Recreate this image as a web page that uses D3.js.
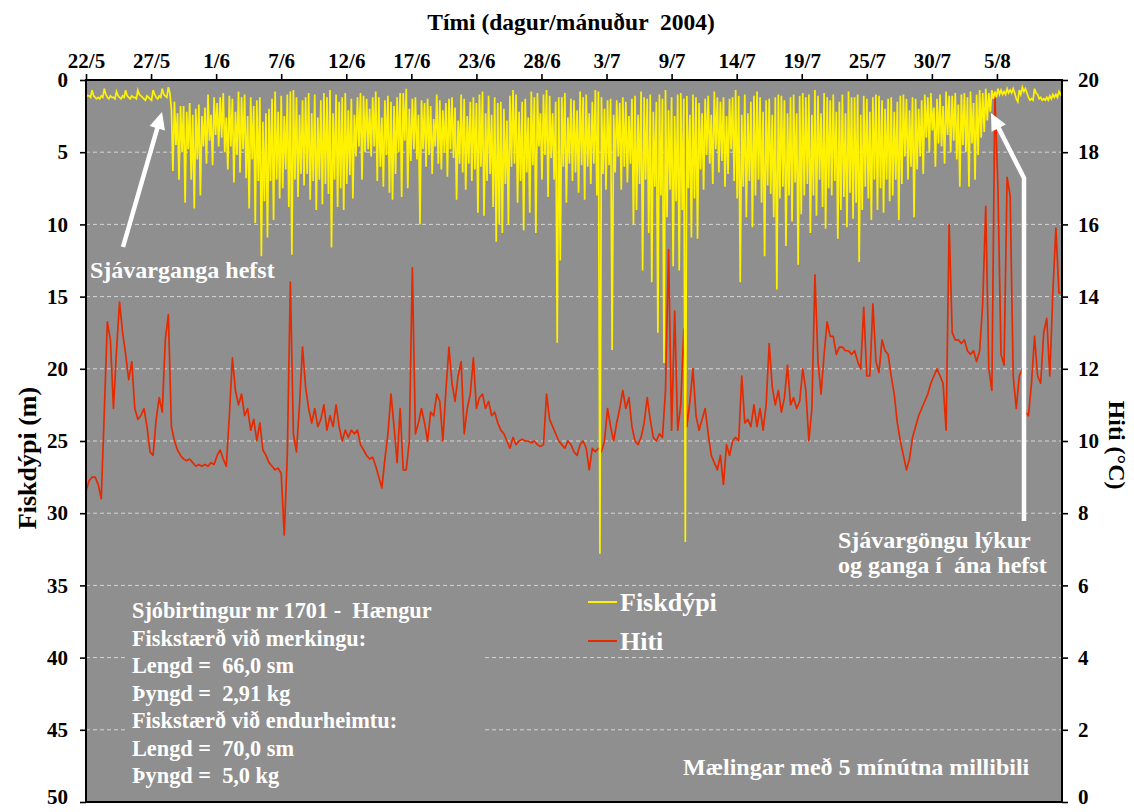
<!DOCTYPE html>
<html><head><meta charset="utf-8">
<script src="https://cdn.jsdelivr.net/npm/d3@7"></script>
<style>
body{margin:0;background:#fff;}
text{font-family:"Liberation Serif","Times New Roman",serif;font-weight:bold;white-space:pre;}
</style>
</head><body>
<svg id="c" width="1134" height="812"></svg>
<script>
// ---------------- data ----------------
const tickLabels = ["22/5","27/5","1/6","7/6","12/6","17/6","23/6","28/6","3/7","9/7","14/7","19/7","25/7","30/7","5/8"];
const tickStepDays = 16/3;          // label spacing in days
const totalDays = 80;               // 22/5 .. 10/8
const sampleStep = 0.25;            // days between samples
const depthTicks = [0,5,10,15,20,25,30,35,40,45,50];
const tempTicks = [0,2,4,6,8,10,12,14,16,18,20];

// shallowest reading per sample (m)
const depthShallow = [
1.0,1.1,0.7,1.2, 1.2,1.1,0.6,1.2, 1.1,1.2,0.8,1.2, 1.1,0.7,1.2,1.1, 1.2,0.7,1.1,1.3,
1.1,1.3,0.7,1.2, 1.1,0.6,1.1,0.5, 2.0,1.5,2.3,1.8, 1.8,2.2,1.6,2.4, 2.0,1.7,2.5,1.9,
1.0,2.4,1.2,1.6, 1.2,0.9,2.6,1.1, 1.3,2.2,0.8,1.2, 1.0,2.5,1.2,1.8, 1.4,1.2,2.9,2.3,
2.0,1.3,0.8,2.2, 1.1,2.5,1.0,0.8, 0.7,1.2,2.4,1.4, 1.2,0.9,2.3,1.0, 2.6,1.4,0.9,1.2,
0.7,2.3,1.0,1.5, 1.2,0.9,2.1,1.3, 2.4,1.2,0.9,1.1, 1.3,2.0,1.2,0.8, 1.2,2.6,1.4,1.1,
1.5,1.8,1.2,0.9, 0.9,0.6,2.0,1.3, 1.2,2.4,1.4,1.6, 1.3,1.8,2.7,1.0, 1.4,2.1,1.6,1.3,
1.2,1.9,2.8,1.0, 1.3,2.5,1.5,1.2, 1.6,1.0,0.8,2.3, 1.1,2.4,1.2,1.6, 1.5,2.0,2.8,1.1,
0.7,1.0,2.2,1.5, 1.3,2.6,0.8,1.2, 0.9,2.3,1.0,0.7, 1.1,2.3,1.5,1.2, 1.2,0.9,2.6,1.3,
1.4,2.1,0.8,1.2, 1.0,2.3,1.5,0.7, 0.8,1.2,2.0,1.4, 1.3,2.4,1.4,1.6, 1.2,1.5,2.5,1.3,
1.1,2.4,0.8,1.2, 1.3,1.0,2.2,1.5, 1.0,1.3,0.7,2.1, 1.2,2.5,1.0,0.9, 1.3,1.1,2.4,1.0,
1.2,1.6,2.3,1.3, 1.1,2.4,0.8,1.2, 1.5,1.2,2.5,1.3, 1.2,0.7,1.1,2.4, 1.0,2.3,1.5,1.1,
0.8,1.2,2.2,1.4, 1.3,2.4,1.2,1.0, 1.1,1.4,2.3,1.2, 1.0,2.3,1.1,0.9, 1.2,1.0,2.4,0.7,
1.1,2.3,0.9,1.2, 1.4,1.0,2.2,1.5, 1.0,2.3,0.8,1.2, 1.2,1.0,2.4,1.1, 1.3,2.2,1.2,1.0,
1.1,1.4,2.0,1.3, 1.2,2.2,1.5,1.1, 1.0,1.3,2.1,1.2, 1.3,2.0,1.4,1.0, 1.2,0.9,1.9,1.3,
1.0,1.8,0.8,1.1, 1.1,0.9,1.7,1.0, 0.9,1.2,0.8,1.6, 1.0,0.7,0.9,0.6, 0.9,0.7,0.8,0.6,
0.7,0.8,0.6,0.7, 0.6,1.3,0.7,0.5, 0.6,1.2,1.3,0.6, 1.0,1.2,1.3,1.2, 1.1,1.0,1.0,0.8,
0.8];

// deepest reading per sample (m)
const depthDeep = [
1.1,1.2,1.1,1.3, 1.3,1.2,1.0,1.3, 1.2,1.3,1.1,1.3, 1.2,1.1,1.3,1.2, 1.3,1.0,1.2,1.4,
1.2,1.4,1.0,1.3, 1.2,1.0,1.2,0.9, 6.3,4.5,6.9,5.0, 8.5,4.8,6.9,8.9, 5.5,8.0,4.6,5.8,
4.2,5.9,3.8,4.6, 4.0,5.0,6.2,4.6, 7.1,5.2,6.4,4.8, 6.8,8.9,5.5,9.9, 7.0,12.2,8.4,10.9,
7.0,9.7,6.9,8.2, 7.5,6.2,8.8,12.1, 6.9,8.1,6.5,7.3, 6.5,8.3,7.0,9.0, 6.9,8.6,7.2,7.9,
11.6,6.9,8.8,7.5, 9.0,7.2,6.6,8.2, 5.3,4.6,6.9,5.0, 4.8,5.3,4.6,7.0, 6.0,7.4,5.2,7.8,
8.3,6.5,5.0,8.1, 4.2,7.5,5.6,4.8, 5.5,10.0,4.8,6.0, 5.2,6.5,4.6,5.8, 6.2,5.0,6.7,4.8,
5.4,8.3,5.8,6.4, 7.6,5.8,7.0,6.2, 9.2,6.0,9.4,7.0, 6.5,8.8,11.2,10.0, 10.6,7.2,10.0,6.0,
5.8,8.5,7.0,10.4, 6.4,9.2,5.9,10.6, 4.6,6.9,5.2,8.1, 5.4,6.9,18.2,12.5, 6.0,8.5,5.8,7.0,
6.4,7.8,5.9,8.3, 6.0,7.2,5.8,8.0, 32.8,6.5,7.6,5.9, 18.7,6.4,5.3,7.6, 6.0,7.1,5.8,10.0,
9.0,7.2,13.2,6.9, 10.6,14.0,7.4,17.5, 8.0,19.6,9.5,7.6, 12.9,8.4,13.2,9.0, 32.0,7.5,10.9,8.2,
11.0,6.2,7.6,5.2, 5.8,7.2,4.8,6.4, 5.6,7.4,6.5,4.8, 7.0,8.2,14.0,7.4, 9.5,7.0,10.2,8.0,
6.9,8.5,12.2,7.3, 7.9,9.5,14.5,8.2, 7.4,11.5,8.0,9.8, 7.1,12.8,9.3,8.0, 7.2,10.6,8.0,9.4,
6.9,8.8,10.3,7.5, 8.0,7.0,11.0,9.0, 8.1,10.2,7.8,9.6, 8.5,12.6,9.0,7.4, 8.2,9.7,6.9,9.0,
7.5,9.2,6.9,8.4, 8.0,6.9,9.7,7.2, 5.3,6.9,6.0,9.5, 6.2,5.3,6.5,4.0, 5.0,3.5,6.0,4.4,
4.6,5.8,3.8,5.0, 4.2,5.5,7.4,4.5, 5.0,7.4,4.4,6.9, 5.2,4.0,3.6,2.8, 2.2,1.3,1.2,1.0,
1.0,1.0,0.9,0.9, 0.9,1.5,1.0,0.8, 0.9,1.4,1.4,0.9, 1.3,1.4,1.4,1.4, 1.3,1.2,1.2,1.0];

// water temperature per sample (°C)
const temperature = [
8.6,8.9,9.0,9.0,8.8,8.4,10.8,13.3, 12.8,10.9,12.5,13.85,13.0,12.4,11.7,12.2,
10.9,10.6,10.7,10.9,10.4,9.7,9.6,10.6, 11.2,10.8,12.8,13.5,10.4,10.0,9.75,9.6,
9.5,9.45,9.5,9.4,9.3,9.35,9.3,9.35, 9.3,9.4,9.35,9.6,9.75,9.5,9.3,10.7,
12.3,11.4,11.0,11.3,10.7,10.9,10.3,10.6, 10.0,10.5,9.75,9.6,9.4,9.3,9.2,9.25,
9.1,7.4,9.6,14.4,10.2,9.7,11.0,12.6, 11.5,10.9,10.5,10.9,10.4,10.6,11.0,10.3,
10.7,10.4,11.0,10.4,10.0,10.3,10.1,10.3, 10.2,10.3,9.9,9.75,9.6,9.5,9.55,9.3,
9.0,8.7,9.5,10.2,11.3,10.4,9.4,10.9, 9.2,9.2,10.0,14.8,10.2,10.5,10.9,10.5,
10.0,10.8,10.7,11.3,11.1,10.0,11.4,12.6, 11.6,11.1,11.8,12.2,10.2,10.9,11.3,12.3,
10.9,11.2,11.3,10.9,11.1,10.7,10.8,10.5, 10.3,10.2,10.0,9.8,10.1,9.9,10.0,10.05,
10.0,10.0,9.95,10.0,9.9,9.85,9.9,11.3, 10.6,10.4,10.2,10.0,9.9,9.8,10.0,9.9,
9.7,9.6,9.9,10.0,9.8,9.2,9.8,9.7, 9.8,9.7,10.0,10.9,10.4,10.0,10.5,10.9,
11.4,10.9,11.2,10.4,10.0,9.9,10.1,10.5, 11.2,10.6,10.1,10.0,10.2,10.1,11.4,15.3,
10.3,13.6,10.3,11.0,13.1,10.4,11.1,12.0, 10.7,10.3,10.6,10.9,10.2,9.6,9.4,9.2,
9.6,8.8,9.9,9.6,10.0,10.1,10.0,11.8, 10.5,10.6,10.4,11.0,10.4,10.9,10.3,11.0,
12.7,11.5,11.0,11.4,10.8,11.2,12.1,11.0, 11.2,10.9,11.1,12.0,11.4,10.0,10.9,14.6,
12.2,11.3,12.4,13.3,12.9,12.9,12.4,12.6, 12.6,12.5,12.5,12.4,12.5,12.2,12.0,13.7,
11.8,11.8,13.8,12.2,11.9,12.8,12.5,12.4, 11.8,11.3,10.5,10.0,9.6,9.2,9.5,10.1,
10.4,10.7,10.9,11.1,11.3,11.6,11.8,12.0, 11.8,11.6,10.3,16.0,13.0,12.8,12.8,12.7,
12.8,12.5,12.4,12.5,12.2,12.5,13.8,16.5, 12.0,11.4,19.6,17.0,12.4,12.1,17.3,16.8,
11.8,10.9,11.8,12.0,10.8,10.7,11.6,12.9, 11.8,11.6,13.0,13.4,11.8,14.1,15.9,14.1,
14.1];

const seriesNames = ["Fiskdýpi","Hiti"];
const infoLines = ["Sjóbirtingur nr 1701 -  Hængur","Fiskstærð við merkingu:","Lengd =  66,0 sm","Þyngd =  2,91 kg","Fiskstærð við endurheimtu:","Lengd =  70,0 sm","Þyngd =  5,0 kg"];

// ---------------- drawing ----------------
const BG = "#8f8f8f", YEL = "#fff200", RED = "#e62a00";
const M = {l:86, r:1062, t:80, b:802};
const svg = d3.select("#c");
const x = d3.scaleLinear().domain([0,totalDays]).range([M.l,M.r]);
const yD = d3.scaleLinear().domain([0,50]).range([M.t,M.b]);
const yT = d3.scaleLinear().domain([0,20]).range([M.b,M.t]);

svg.append("rect").attr("x",M.l).attr("y",M.t).attr("width",M.r-M.l).attr("height",M.b-M.t).attr("fill",BG);

svg.append("defs").append("clipPath").attr("id","clip").append("rect")
  .attr("x",M.l).attr("y",M.t).attr("width",M.r-M.l).attr("height",M.b-M.t);

// gridlines
svg.append("g").selectAll("line").data(depthTicks.filter(d=>d>0&&d<50)).join("line")
  .attr("x1",M.l).attr("x2",M.r).attr("y1",d=>yD(d)).attr("y2",d=>yD(d))
  .attr("stroke","#d6d6d6").attr("stroke-width",1).attr("stroke-dasharray","4,3");

// info box background (hides gridlines)
svg.append("rect").attr("x",125).attr("y",592).attr("width",357).attr("height",200).attr("fill",BG);

const plot = svg.append("g").attr("clip-path","url(#clip)");

// temperature
const tempPts = temperature.map((v,i)=>[i*sampleStep,v]);
plot.append("path").datum(tempPts)
  .attr("d", d3.line().x(d=>x(d[0])).y(d=>yT(d[1])))
  .attr("fill","none").attr("stroke",RED).attr("stroke-width",1.7).attr("stroke-linejoin","round");

// depth
const depthPts = [];
depthShallow.forEach((v,i)=>{
  depthPts.push([i*sampleStep, v]);
  if (i < depthDeep.length) depthPts.push([i*sampleStep + sampleStep/2, depthDeep[i]]);
});
plot.append("path").datum(depthPts)
  .attr("d", d3.line().x(d=>x(d[0])).y(d=>yD(d[1])))
  .attr("fill","none").attr("stroke",YEL).attr("stroke-width",1.7).attr("stroke-linejoin","miter");

// frame
svg.append("rect").attr("x",M.l).attr("y",M.t).attr("width",M.r-M.l).attr("height",M.b-M.t)
  .attr("fill","none").attr("stroke","#000").attr("stroke-width",2);

// axes
function styleAxis(g, size){
  g.select(".domain").remove();
  g.selectAll(".tick line").attr("stroke","#000").attr("stroke-width",1.6);
  g.selectAll(".tick text").attr("fill","#000").style("font-size",size+"px")
    .style("font-family","'Liberation Serif','Times New Roman',serif").style("font-weight","bold");
}
svg.append("g").attr("transform",`translate(0,${M.t})`)
  .call(d3.axisTop(x).tickValues(tickLabels.map((_,i)=>i*tickStepDays))
        .tickFormat((d,i)=>tickLabels[i]).tickSize(6).tickSizeOuter(0).tickPadding(6))
  .call(g=>styleAxis(g,21));
svg.append("g").attr("transform",`translate(${M.l},0)`)
  .call(d3.axisLeft(yD).tickValues(depthTicks).tickSize(6).tickSizeOuter(0).tickPadding(12))
  .call(g=>styleAxis(g,21))
  .call(g=>g.selectAll(".tick text").filter(d=>d===50).attr("dy","0.05em"));
svg.append("g").attr("transform",`translate(${M.r},0)`)
  .call(d3.axisRight(yT).tickValues(tempTicks).tickSize(6).tickSizeOuter(0).tickPadding(10))
  .call(g=>styleAxis(g,21))
  .call(g=>g.selectAll(".tick text").filter(d=>d===0).attr("dy","0.05em"));

// titles
svg.append("text").attr("x",571).attr("y",30).attr("text-anchor","middle")
  .style("font-size","23.5px").text("Tími (dagur/mánuður  2004)");
svg.append("text").attr("transform","translate(27,458) rotate(-90)").attr("text-anchor","middle")
  .attr("dy","0.35em").style("font-size","26px").text("Fiskdýpi (m)");
svg.append("text").attr("transform","translate(1117,445) rotate(90)").attr("text-anchor","middle")
  .attr("dy","0.35em").style("font-size","24px").text("Hiti (°C)");

// legend
const leg = svg.append("g");
[YEL,RED].forEach((c,i)=>{
  const yy = 602 + i*39;
  leg.append("line").attr("x1",588).attr("x2",617).attr("y1",yy).attr("y2",yy).attr("stroke",c).attr("stroke-width",2);
  leg.append("text").attr("x",620).attr("y",yy).attr("dy","0.35em").attr("fill","#fff")
    .style("font-size","26px").text(seriesNames[i]);
});

// info text
svg.append("g").selectAll("text").data(infoLines).join("text")
  .attr("x",132).attr("y",(d,i)=>618+i*27.5).attr("fill","#fff").style("font-size","22.3px").text(d=>d);

svg.append("text").attr("x",683).attr("y",775).attr("fill","#fff").style("font-size","24px")
  .text("Mælingar með 5 mínútna millibili");

// annotations
svg.append("text").attr("x",90).attr("y",278).attr("fill","#fff").style("font-size","24px").text("Sjávarganga hefst");
svg.append("text").attr("x",838).attr("y",548).attr("fill","#fff").style("font-size","24px").text("Sjávargöngu lýkur");
svg.append("text").attr("x",838).attr("y",573).attr("fill","#fff").style("font-size","24px").text("og ganga í  ána hefst");

function arrow(pts){
  const n = pts.length, tip = pts[n-1], prev = pts[n-2];
  const dx = tip[0]-prev[0], dy = tip[1]-prev[1], L = Math.hypot(dx,dy);
  const ux = dx/L, uy = dy/L, hl = 17, hw = 8;
  const bx = tip[0]-ux*hl, by = tip[1]-uy*hl;
  const body = pts.slice(0,n-1).concat([[bx+ux*2,by+uy*2]]);
  svg.append("path").attr("d",d3.line()(body)).attr("fill","none").attr("stroke","#fff").attr("stroke-width",4.5);
  svg.append("path").attr("d",d3.line()([tip,[bx-uy*hw,by+ux*hw],[bx+uy*hw,by-ux*hw]])+"Z").attr("fill","#fff");
}
arrow([[123,247],[162,112]]);
arrow([[1024,521],[1024,178],[991,113]]);
</script>
</body></html>
